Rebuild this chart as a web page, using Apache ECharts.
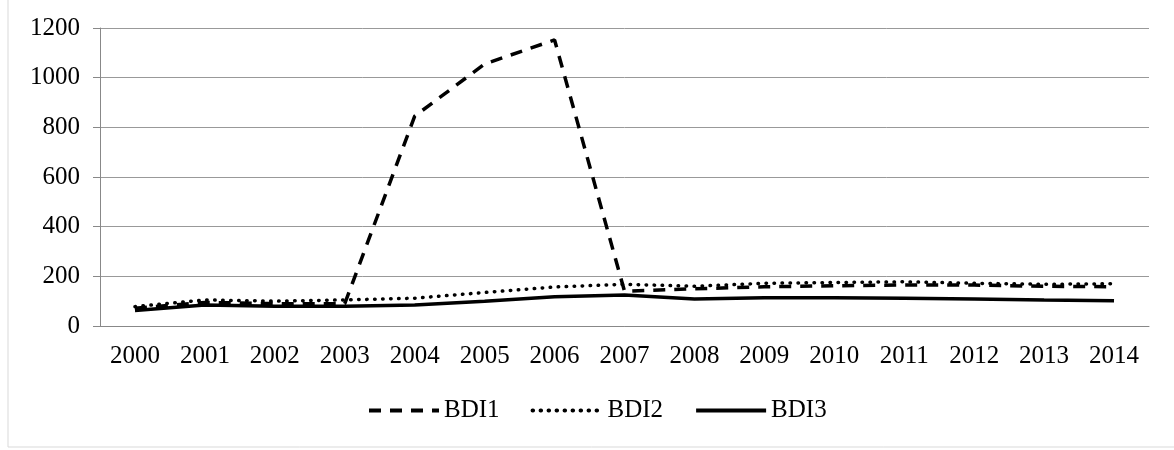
<!DOCTYPE html>
<html>
<head>
<meta charset="utf-8">
<script src="https://cdn.jsdelivr.net/npm/echarts@6/dist/echarts.min.js"></script>
<style>
  html, body { margin: 0; padding: 0; background: #fff; }
  #main { width: 1174px; height: 450px; }
</style>
</head>
<body>
<div id="main"></div>
<script>
// 数据
var years = ['2000', '2001', '2002', '2003', '2004', '2005', '2006', '2007',
             '2008', '2009', '2010', '2011', '2012', '2013', '2014'];
var bdi1 = [72, 95, 90, 90, 845, 1055, 1152, 140, 150, 158, 162, 165, 165, 160, 158];
var bdi2 = [78, 105, 100, 105, 112, 135, 157, 168, 160, 172, 175, 178, 172, 168, 170];
var bdi3 = [62, 85, 80, 80, 85, 100, 118, 125, 109, 114, 114, 112, 109, 105, 102];

var myChart = echarts.init(document.getElementById('main'));
var font = 'Liberation Serif';

var option = {
    backgroundColor: '#fff',
    animation: false,
    graphic: [{
        type: 'rect',
        shape: { x: 8, y: -10, width: 1200, height: 457 },
        style: { fill: 'none', stroke: '#d9d9d9', lineWidth: 1 }
    }],
    legend: {
        top: 393,
        left: 362,
        itemWidth: 70,
        itemHeight: 10,
        itemGap: 31,
        itemStyle: { opacity: 0 },
        lineStyle: { width: 4 },
        textStyle: { fontFamily: font, fontSize: 25, color: '#000' },
        data: ['BDI1', 'BDI2', 'BDI3']
    },
    grid: {
        left: 100,
        right: 25,
        top: 28,
        bottom: 124
    },
    xAxis: {
        type: 'category',
        data: years,
        axisLine: { lineStyle: { color: '#888', width: 1 } },
        axisTick: { length: 7, lineStyle: { color: '#888' } },
        axisLabel: { fontFamily: font, fontSize: 25, color: '#000', margin: 18 }
    },
    yAxis: {
        type: 'value',
        min: 0,
        max: 1200,
        interval: 200,
        axisLine: { show: true, lineStyle: { color: '#888', width: 1 } },
        axisTick: { show: true, length: 7, lineStyle: { color: '#888' } },
        axisLabel: {
            fontFamily: font, fontSize: 25, color: '#000', margin: 20,
            formatter: function (v) { return String(v); }
        },
        splitLine: { lineStyle: { color: '#999', width: 1 } }
    },
    series: [
        {
            name: 'BDI1',
            type: 'line',
            data: bdi1,
            symbol: 'none',
            itemStyle: { color: '#000' },
            lineStyle: { color: '#000', width: 3.5, type: [12, 9] }
        },
        {
            name: 'BDI2',
            type: 'line',
            data: bdi2,
            symbol: 'none',
            itemStyle: { color: '#000' },
            lineStyle: { color: '#000', width: 3.5, type: [0.5, 7.5], cap: 'round' }
        },
        {
            name: 'BDI3',
            type: 'line',
            data: bdi3,
            symbol: 'none',
            itemStyle: { color: '#000' },
            lineStyle: { color: '#000', width: 3.5 }
        }
    ]
};
myChart.setOption(option);
</script>
</body>
</html>
